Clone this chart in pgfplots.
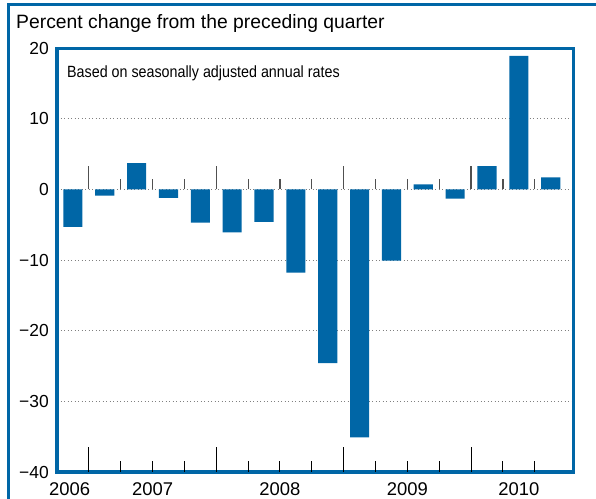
\documentclass[border=0pt]{standalone}
\usepackage{fontspec}
\setmainfont{Liberation Sans}
\newfontfamily\narrowfont[FakeStretch=0.88]{Liberation Sans}
\usepackage{pgfplots}
\pgfplotsset{compat=1.18}
\definecolor{fedblue}{RGB}{0,102,166}
\definecolor{tickgray}{RGB}{80,80,80}

\begin{document}
\begin{tikzpicture}
\useasboundingbox (0,0) rectangle (596bp,499bp);
% outer panel frame, cut by the right and bottom edges
\draw[fedblue, line width=3bp] (8bp,0bp) -- (8bp,494bp) -- (596bp,494bp);
\node[anchor=base west, inner sep=0pt, font=\fontsize{19.4}{22}\selectfont]
  at (16bp,470bp) {Percent change from the preceding quarter};
\begin{axis}[
  at={(57bp,27bp)}, anchor=south west,
  scale only axis, width=516bp, height=424bp,
  xmin=-0.5, xmax=15.7, ymin=-40, ymax=20,
  ybar, bar width=0.6,
  axis line style={draw=fedblue, line width=3bp},
  ytick={-40,-30,...,20},
  yticklabels={−40,−30,−20,−10,0,10,20},
  xtick={-0.1,2.5,6.5,10.5,14},
  xticklabels={2006,2007,2008,2009,2010},
  major tick length=0pt,
  ymajorgrids,
  grid style={gray, line width=0.9bp, dash pattern=on 1.2bp off 2.3bp},
  yticklabel style={anchor=east, inner sep=0pt, xshift=-8bp,
    font=\fontsize{17.5}{20}\selectfont},
  xticklabel style={anchor=base, inner sep=0pt, yshift=-23bp,
    font=\fontsize{18.5}{22}\selectfont},
]
\addplot[fill=fedblue, draw=none] coordinates {
  (0,-5.3) (1,-0.9) (2,3.7) (3,-1.2)
  (4,-4.7) (5,-6.1) (6,-4.6) (7,-11.8)
  (8,-24.6) (9,-35.1) (10,-10.1) (11,0.7)
  (12,-1.3) (13,3.3) (14,18.9) (15,1.7)
};
% quarter ticks on the bottom edge and on the zero line
\pgfplotsinvokeforeach{1.5,2.5,3.5,5.5,6.5,7.5,9.5,10.5,11.5,13.5,14.5}{
  \draw[black, line width=1bp] (axis cs:#1,-40) -- ++(0bp,11bp);
  \draw[tickgray, line width=1.2bp] (axis cs:#1,0) -- ++(0bp,10bp);
}
\pgfplotsinvokeforeach{0.5,4.5,8.5,12.5}{
  \draw[black, line width=1bp] (axis cs:#1,-40) -- ++(0bp,25bp);
  \draw[tickgray, line width=1.2bp] (axis cs:#1,0) -- ++(0bp,23bp);
}
\node[anchor=base west, inner sep=0pt, font=\narrowfont\fontsize{16.3}{19}\selectfont]
  at (rel axis cs:0,1) [xshift=10bp, yshift=-29bp] {Based on seasonally adjusted annual rates};
\end{axis}
\end{tikzpicture}
\end{document}
